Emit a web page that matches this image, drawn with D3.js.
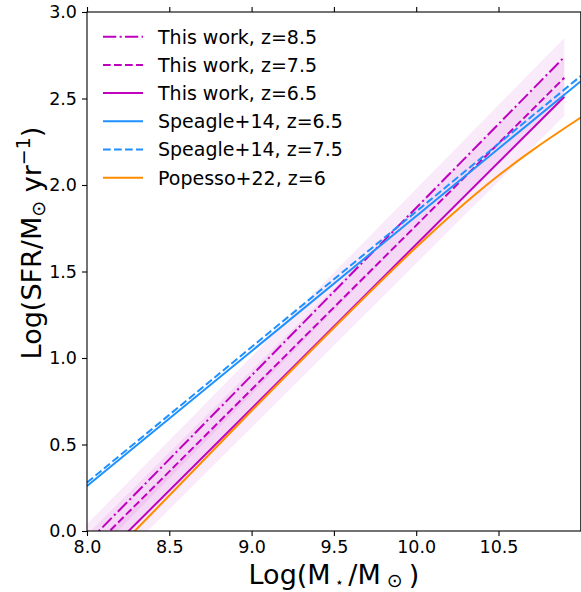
<html>
<head>
  <meta charset="utf-8" />
  <script src="https://cdnjs.cloudflare.com/ajax/libs/d3/7.8.5/d3.min.js"></script>
  <style>
    body { margin: 0; background: #fff; }
    text { font-family: "DejaVu Sans", sans-serif; fill: #000; }
    .tick > text { font-size: 17.5px; }
    .tick > line { stroke: #000; stroke-width: 1.1; }
    path.domain { stroke: none; }
  </style>
</head>
<body>
  <svg width="581" height="592"></svg>
  <script>
    // values
    var xTicks = [8.0, 8.5, 9.0, 9.5, 10.0, 10.5]
    var yTicks = [0.0, 0.5, 1.0, 1.5, 2.0, 2.5, 3.0]

    var workMass = [8.0, 10.9]
    var workZ85 = [-0.07, 2.74]
    var workZ75 = [-0.13, 2.62]
    var workZ65 = [-0.24, 2.51]
    var workScatter = 0.11

    var speagleMass = [8.0, 11.0]
    var speagleZ65 = [0.26, 2.60]
    var speagleZ75 = [0.28, 2.63]

    var popessoMass = [8.0, 8.29, 8.5, 9.0, 9.5, 10.0, 10.2, 10.36, 10.5, 10.72, 11.0]
    var popessoZ6 = [-0.285, 0.0, 0.205, 0.695, 1.175, 1.64, 1.815, 1.947, 2.055, 2.21, 2.39]

    var legendLabels = ["This work, z=8.5", "This work, z=7.5", "This work, z=6.5",
                        "Speagle+14, z=6.5", "Speagle+14, z=7.5", "Popesso+22, z=6"]

    var magenta = "#bf00bf", blue = "#1e90ff", orange = "#ff8c00"
    var dashed = "7.7,3.3", dashdot = "13.3,3.3,2.1,3.3"

    var svg = d3.select("svg")
    var box = {l: 87, r: 580.8, t: 12, b: 531}

    var xScale = d3.scaleLinear().domain([8, 11]).range([box.l, box.r])
    var yScale = d3.scaleLinear().domain([0, 3]).range([box.b, box.t])

    svg.append("clipPath").attr("id", "plotclip")
      .append("rect")
        .attr("x", box.l).attr("y", box.t)
        .attr("width", box.r - box.l).attr("height", box.b - box.t)

    var plot = svg.append("g").attr("clip-path", "url(#plotclip)")

    var pts = (xs, ys) => xs.map((x, i) => [x, ys[i]])
    var line = d3.line().x(d => xScale(d[0])).y(d => yScale(d[1]))
    var curve = d3.line().x(d => xScale(d[0])).y(d => yScale(d[1])).curve(d3.curveMonotoneX)
    var area = d3.area()
      .x(d => xScale(d[0]))
      .y0(d => yScale(d[1] - workScatter))
      .y1(d => yScale(d[1] + workScatter))

    // scatter bands of this work
    ;[workZ85, workZ75, workZ65].forEach(ys => {
      plot.append("path")
        .attr("d", area(pts(workMass, ys)))
        .style("fill", magenta)
        .style("fill-opacity", 0.08)
    })

    var series = [
      {data: pts(workMass, workZ85), color: magenta, dash: dashdot, gen: line},
      {data: pts(workMass, workZ75), color: magenta, dash: dashed, gen: line},
      {data: pts(workMass, workZ65), color: magenta, dash: null, gen: line},
      {data: pts(speagleMass, speagleZ65), color: blue, dash: null, gen: line},
      {data: pts(speagleMass, speagleZ75), color: blue, dash: dashed, gen: line},
      {data: pts(popessoMass, popessoZ6), color: orange, dash: null, gen: curve}
    ]

    series.forEach(s => {
      plot.append("path")
        .attr("d", s.gen(s.data))
        .style("fill", "none")
        .style("stroke", s.color)
        .style("stroke-width", 2)
        .style("stroke-dasharray", s.dash)
    })

    // axes
    var fmt = d3.format(".1f")
    svg.append("g").attr("transform", "translate(0," + box.b + ")")
      .call(d3.axisBottom(xScale).tickValues(xTicks).tickFormat(fmt).tickSize(5).tickPadding(5))
    svg.append("g").attr("transform", "translate(0," + box.t + ")")
      .call(d3.axisTop(xScale).tickValues(xTicks).tickFormat("").tickSize(5))
    svg.append("g").attr("transform", "translate(" + box.l + ",0)")
      .call(d3.axisLeft(yScale).tickValues(yTicks).tickFormat(fmt).tickSize(5).tickPadding(5))

    svg.append("rect")
      .attr("x", box.l).attr("y", box.t)
      .attr("width", box.r - box.l).attr("height", box.b - box.t)
      .style("fill", "none").style("stroke", "#000").style("stroke-width", 1.1)

    // axis labels
    var xl = svg.append("text")
      .attr("x", (box.l + box.r) / 2).attr("y", 584)
      .attr("text-anchor", "middle").style("font-size", "27px")
    xl.append("tspan").text("Log(M")
    xl.append("tspan").attr("dy", 3).style("font-size", "14px").text(" \u22c6 ")
    xl.append("tspan").attr("dy", -3).text("/M")
    xl.append("tspan").attr("dy", 3).style("font-size", "19px").text(" \u2299 ")
    xl.append("tspan").attr("dy", -3).text(")")

    var yl = svg.append("text")
      .attr("transform", "translate(41,243) rotate(-90)")
      .attr("text-anchor", "middle").style("font-size", "27px")
    yl.append("tspan").text("Log(SFR/M")
    yl.append("tspan").attr("dy", 4).style("font-size", "19px").text("\u2299")
    yl.append("tspan").attr("dy", -4).text(" yr")
    yl.append("tspan").attr("dy", -11).style("font-size", "19px").text("\u22121")
    yl.append("tspan").attr("dy", 11).text(")")

    // legend
    var legend = svg.append("g")
    series.forEach((s, i) => {
      var y = 36.7 + i * 28.2
      legend.append("line")
        .attr("x1", 103).attr("x2", 143).attr("y1", y).attr("y2", y)
        .style("stroke", s.color).style("stroke-width", 2)
        .style("stroke-dasharray", s.dash)
      legend.append("text")
        .attr("x", 158).attr("y", y).attr("dy", "0.36em")
        .style("font-size", "19px")
        .text(legendLabels[i])
    })
  </script>
</body>
</html>
